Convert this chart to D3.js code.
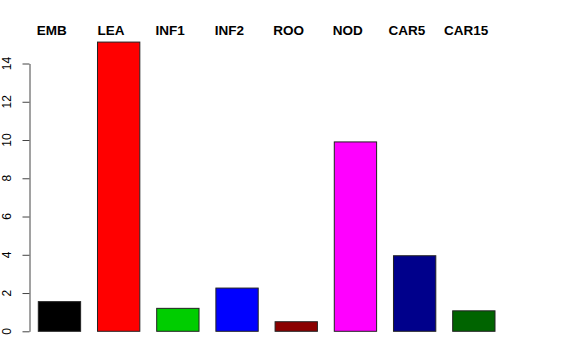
<!DOCTYPE html>
<html>
<head>
<meta charset="utf-8">
<script src="https://cdn.jsdelivr.net/npm/d3@7"></script>
<style>
  body { margin: 0; background: #fff; }
  svg { display: block; }
</style>
</head>
<body>
<div id="chart"></div>
<script>
// bar data
var categories = ["EMB", "LEA", "INF1", "INF2", "ROO", "NOD", "CAR5", "CAR15"];
var values = [1.55, 15.12, 1.2, 2.26, 0.5, 9.9, 3.95, 1.07];
var colors = ["#000000", "#ff0000", "#00cd00", "#0000ff", "#8b0000", "#ff00ff", "#00008b", "#006400"];
var yTicks = [0, 2, 4, 6, 8, 10, 12, 14];

var w = 576, h = 360;

var svg = d3.select("#chart").append("svg")
    .attr("width", w)
    .attr("height", h);

var x = d3.scaleBand()
    .domain(categories)
    .range([38.3, 495])
    .paddingInner(0.285)
    .paddingOuter(0);

var y = d3.scaleLinear()
    .domain([0, 14])
    .range([331.3, 63.5]);

// bars
svg.selectAll("rect.bar")
    .data(categories)
    .enter().append("rect")
    .attr("class", "bar")
    .attr("x", function(d) { return x(d); })
    .attr("width", x.bandwidth())
    .attr("y", function(d, i) { return y(values[i]); })
    .attr("height", function(d, i) { return y(0) - y(values[i]); })
    .attr("fill", function(d, i) { return colors[i]; })
    .attr("stroke", "#222")
    .attr("stroke-width", 1);

// y axis, R style with rotated labels
var yAxis = svg.append("g")
    .attr("transform", "translate(29.5,0)")
    .call(d3.axisLeft(y).tickValues(yTicks).tickSize(7).tickSizeOuter(0).tickFormat(""));
yAxis.select(".domain").attr("stroke", "#444");
yAxis.selectAll(".tick line").attr("stroke", "#444");

svg.selectAll("text.ylab")
    .data(yTicks)
    .enter().append("text")
    .attr("class", "ylab")
    .attr("transform", function(d) { return "translate(11," + y(d) + ") rotate(-90)"; })
    .attr("text-anchor", "middle")
    .attr("font-family", "Liberation Sans, Arial, sans-serif")
    .attr("font-size", "12px")
    .attr("fill", "#000")
    .text(function(d) { return d; });

// category names along the top
svg.selectAll("text.cat")
    .data(categories)
    .enter().append("text")
    .attr("class", "cat")
    .attr("x", function(d) { return x(d) + x.bandwidth() / 2 - 7.7; })
    .attr("y", 34.5)
    .attr("text-anchor", "middle")
    .attr("font-family", "Liberation Sans, Arial, sans-serif")
    .attr("font-weight", "bold")
    .attr("font-size", "13.5px")
    .attr("fill", "#000")
    .text(function(d) { return d; });
</script>
</body>
</html>
